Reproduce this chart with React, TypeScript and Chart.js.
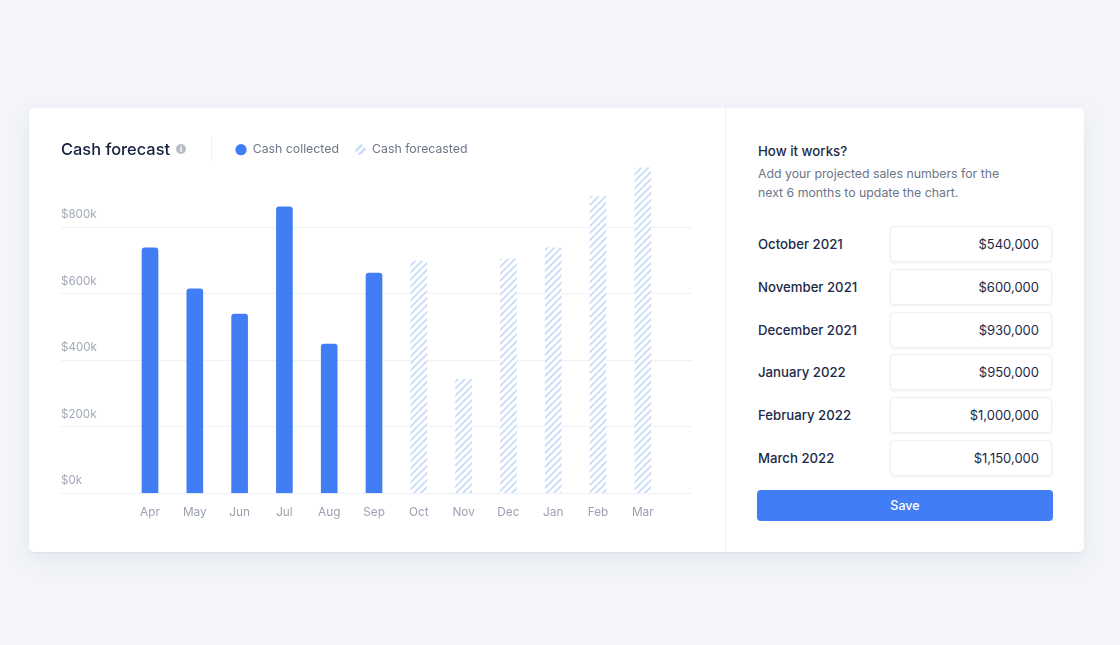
import React, { useEffect, useRef } from "react";
import { Chart, registerables } from "chart.js";

Chart.register(...registerables);

const MONTHS = ["Apr", "May", "Jun", "Jul", "Aug", "Sep", "Oct", "Nov", "Dec", "Jan", "Feb", "Mar"];
const COLLECTED = [739, 615, 539, 862, 449, 663];
const FORECASTED = [699, 343, 705, 739, 893, 979];
const Y_TICKS = [0, 200, 400, 600, 800];
const INPUT_LABELS = ["October 2021", "November 2021", "December 2021", "January 2022", "February 2022", "March 2022"];
const INPUT_VALUES = ["$540,000", "$600,000", "$930,000", "$950,000", "$1,000,000", "$1,150,000"];

const FONT = "Inter, 'Noto Sans', sans-serif";
const BLUE = "#417ef6";
const HATCH = "#c6d9f8";

function hatchTile(): CanvasPattern {
  const c = document.createElement("canvas");
  c.width = 7;
  c.height = 7;
  const g = c.getContext("2d")!;
  g.fillStyle = "#ffffff";
  g.fillRect(0, 0, 7, 7);
  g.strokeStyle = HATCH;
  g.lineWidth = 1.6;
  for (const o of [-7, 0, 7]) {
    g.beginPath();
    g.moveTo(o - 1, 8);
    g.lineTo(o + 8, -1);
    g.stroke();
  }
  return g.createPattern(c, "repeat")!;
}

function hatchSwatch(): HTMLCanvasElement {
  const c = document.createElement("canvas");
  c.width = 11;
  c.height = 11;
  const g = c.getContext("2d")!;
  g.beginPath();
  g.arc(5.5, 5.5, 5.3, 0, Math.PI * 2);
  g.clip();
  g.strokeStyle = HATCH;
  g.lineWidth = 2.4;
  for (const o of [-3.5, 3.5]) {
    g.beginPath();
    g.moveTo(o - 1, 12);
    g.lineTo(o + 12, -1);
    g.stroke();
  }
  return c;
}

const legendPlacement = {
  id: "legendPlacement",
  afterLayout(chart: any) {
    const l = chart.legend;
    if (!l) return;
    l.left = 190.5;
    l.top = 19.5;
  },
};

export default function App() {
  const ref = useRef<HTMLCanvasElement | null>(null);

  useEffect(() => {
    const swatch = hatchSwatch();
    const chart = new Chart(ref.current!, {
      type: "bar",
      data: {
        datasets: [
          {
            label: "Cash collected",
            data: COLLECTED.map((y, i) => ({ x: i, y })),
            backgroundColor: BLUE,
            barThickness: 16,
            grouped: false,
            borderRadius: { topLeft: 3, topRight: 3, bottomLeft: 0, bottomRight: 0 },
            borderSkipped: false,
          },
          {
            label: "Cash forecasted",
            data: FORECASTED.map((y, i) => ({ x: i + COLLECTED.length, y })),
            backgroundColor: hatchTile(),
            barThickness: 16,
            grouped: false,
            borderRadius: 0,
          },
        ] as any,
      },
      plugins: [legendPlacement],
      options: {
        animation: false,
        responsive: false,
        layout: { padding: { left: 32, right: 33, top: 16, bottom: 19.5 } },
        plugins: {
          tooltip: { enabled: false },
          title: { display: false },
          legend: {
            display: true,
            position: "top",
            align: "start",
            labels: {
              usePointStyle: true,
              boxWidth: 11,
              boxHeight: 8,
              padding: 16,
              color: "#6c7589",
              font: { family: FONT, size: 12.3 },
              generateLabels: () => [
                { text: "Cash collected", pointStyle: "circle", fillStyle: BLUE, strokeStyle: BLUE, lineWidth: 0, fontColor: "#6c7589", datasetIndex: 0 },
                { text: "Cash forecasted", pointStyle: swatch, fillStyle: HATCH, strokeStyle: HATCH, lineWidth: 0, fontColor: "#6c7589", datasetIndex: 1 },
              ],
            },
          },
        },
        scales: {
          x: {
            type: "linear",
            offset: false,
            min: -1.987,
            max: 12.098,
            grid: { display: false, drawTicks: false, offset: false },
            border: { display: false },
            afterBuildTicks: (s: any) => {
              s.ticks = MONTHS.map((_, i) => ({ value: i }));
            },
            ticks: {
              stepSize: 1,
              includeBounds: false,
              autoSkip: false,
              maxRotation: 0,
              padding: 12.5,
              color: "#9aa1af",
              font: { family: FONT, size: 11.8 },
              callback: (v: any) => MONTHS[v] ?? "",
            },
          },
          y: {
            min: 0,
            max: 996,
            grid: { color: "#eff1f5", lineWidth: 1, drawTicks: false },
            border: { display: false },
            afterBuildTicks: (s: any) => {
              s.ticks = Y_TICKS.map((value) => ({ value }));
            },
            ticks: {
              includeBounds: false,
              mirror: true,
              padding: 0,
              labelOffset: -12.5,
              color: "#a3a9b6",
              font: { family: FONT, size: 11.6 },
              callback: (v: any) => `$${v}k`,
            },
          },
        },
      } as any,
    });
    return () => chart.destroy();
  }, []);

  return (
    <div style={{ position: "absolute", left: 0, top: 0, width: 1120, height: 645, background: "#f3f5f9", fontFamily: FONT, overflow: "hidden" }}>
      <div style={{ position: "absolute", left: 29, top: 108, width: 1055, height: 444, background: "#fff", borderRadius: 5, boxShadow: "0 8px 24px rgba(40,60,100,0.08), 0 1px 2px rgba(40,60,100,0.06)" }} />
      <canvas ref={ref} width={696} height={444} style={{ position: "absolute", left: 29, top: 108, width: 696, height: 444 }} />
      <div style={{ position: "absolute", left: 725, top: 108, width: 1, height: 444, background: "#eff1f5" }} />

      <div style={{ position: "absolute", left: 61, top: 138, fontSize: 16.4, lineHeight: "22px", fontWeight: 500, color: "#14213d", whiteSpace: "nowrap" }}>Cash forecast</div>
      <div style={{ position: "absolute", left: 176, top: 144, width: 10, height: 10, borderRadius: 5, background: "#b7bbc6", color: "#fff", fontSize: 8, lineHeight: "10px", textAlign: "center", fontWeight: 700 }}>i</div>
      <div style={{ position: "absolute", left: 211, top: 137, width: 1, height: 24, background: "#eff1f5" }} />

      <div style={{ position: "absolute", left: 758, top: 142, fontSize: 13.25, lineHeight: "18px", fontWeight: 500, color: "#1b2a47" }}>How it works?</div>
      <div style={{ position: "absolute", left: 758, top: 164, fontSize: 12.3, lineHeight: "19px", color: "#6c7589", whiteSpace: "nowrap" }}>
        Add your projected sales numbers for the<br />next 6 months to update the chart.
      </div>
      {INPUT_LABELS.map((label, i) => {
        const top = 226 + i * 42.8;
        return (
          <React.Fragment key={label}>
            <div style={{ position: "absolute", left: 758, top: top + 9, fontSize: 13.2, lineHeight: "18px", fontWeight: 500, color: "#1b2a47", whiteSpace: "nowrap" }}>{label}</div>
            <div style={{ position: "absolute", left: 890, top, width: 162, height: 36, boxSizing: "border-box", background: "#fff", border: "1px solid #eef0f4", borderRadius: 4, boxShadow: "0 1px 2px rgba(40,60,100,0.08)", paddingRight: 12, textAlign: "right", fontSize: 13, lineHeight: "34px", color: "#1b2a47" }}>{INPUT_VALUES[i]}</div>
          </React.Fragment>
        );
      })}
      <div style={{ position: "absolute", left: 757, top: 490, width: 296, height: 31, borderRadius: 4, background: BLUE, color: "#fff", textAlign: "center", fontSize: 12.5, lineHeight: "31px", fontWeight: 500 }}>Save</div>
    </div>
  );
}
